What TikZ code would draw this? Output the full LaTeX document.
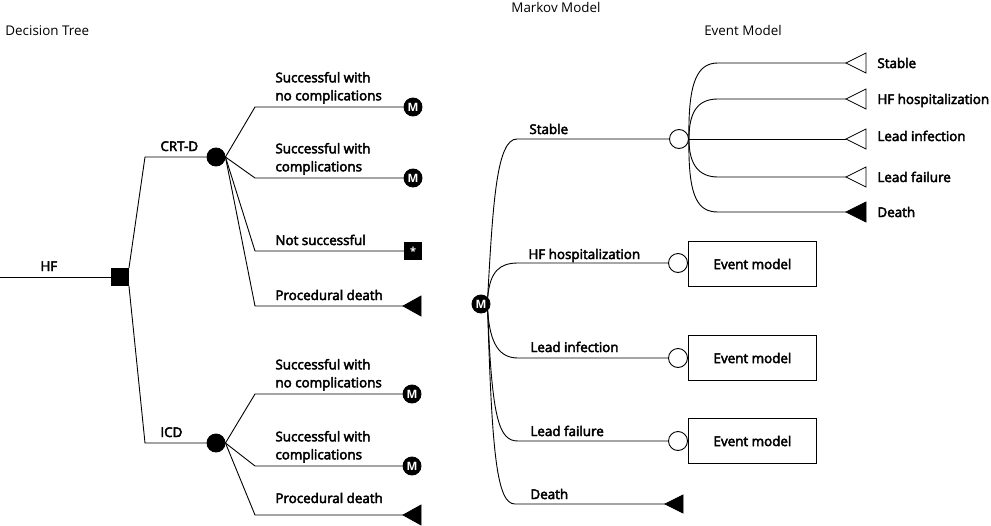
\documentclass[tikz,border=0pt]{standalone}
\usepackage{fontspec}
\setmainfont{Open Sans}
\newcommand\medfont{\fontsize{13.4}{18}\selectfont}
\newcommand\semib[1]{\special{pdf:literal 2 Tr 0.45 w 0 G}#1\special{pdf:literal 0 Tr 0.9 w}}
\begin{document}
\begin{tikzpicture}[x=1pt,y=-1pt,line width=0.9pt,
  lbl/.style={anchor=base west,inner sep=0pt,font=\medfont},
  lbltwo/.style={anchor=south west,inner sep=0pt,align=left,font=\medfont},
  ttl/.style={inner sep=0pt,font=\fontsize{13.4}{15}\selectfont},
  chancef/.style={circle,fill=black,draw=black,minimum size=18pt,inner sep=0pt},
  chanceo/.style={circle,fill=white,draw=black,minimum size=19pt,inner sep=0pt},
  mnode/.style={circle,fill=black,draw=black,minimum size=18pt,inner sep=0pt,text=white,font=\bfseries\fontsize{11.5}{11.5}\selectfont},
  decbox/.style={rectangle,fill=black,draw=black,minimum size=17pt,inner sep=0pt},
  starbox/.style={rectangle,fill=black,draw=black,minimum size=17pt,inner sep=0pt,text=white,font=\bfseries\fontsize{11}{11}\selectfont},
  evbox/.style={rectangle,draw=black,minimum width=128pt,minimum height=45pt,inner sep=0pt,font=\medfont},
  term/.style={draw=black,fill=black,line width=0.7pt},
  termo/.style={draw=black,fill=white,line width=0.7pt}]
\useasboundingbox (0,0) rectangle (991,525);

% titles
\node[ttl,anchor=base west] (t1) at (5,35) {Decision Tree};
\node[ttl,anchor=base] (t2) at (556,12) {Markov Model};
\node[ttl,anchor=base] (t3) at (743,35) {Event Model};

% ---------------- decision tree ----------------
\coordinate (hfstart) at (0,277);
\node[decbox] (sq) at (120,277) {};
\node[chancef] (crt) at (216,157) {};
\node[chancef] (icd) at (216,443) {};
\coordinate (crtk) at (145,157);
\coordinate (icdk) at (145,443);
\draw (hfstart) -- (sq.west);
\draw (sq.north east) -- (crtk) -- (crt.west);
\draw (sq.south east) -- (icdk) -- (icd.west);
\node[lbl] (lhf) at (40,271) {\semib{HF}};
\node[lbl] (lcrt) at (160,151) {\semib{CRT-D}};
\node[lbl] (licd) at (160,437) {\semib{ICD}};

% CRT-D branches
\node[mnode] (m1) at (413,107) {M};
\node[mnode] (m2) at (413,178) {M};
\node[starbox] (st) at (413,251) {*};
\coordinate (pd1) at (403,306);
\coordinate (b1) at (255,107);
\coordinate (b2) at (255,178);
\coordinate (b3) at (255,251);
\coordinate (b4) at (255,306);
\draw (crt.east) -- (b1) -- (m1.west);
\draw (crt.east) -- (b2) -- (m2.west);
\draw (crt.east) -- (b3) -- (st.west);
\draw (crt.east) -- (b4) -- (pd1);
\draw[term] (pd1) -- ++(18,-10) -- ++(0,20) -- cycle;
\node[lbltwo] (l1) at (275,104) {\semib{Successful with}\\\semib{no complications}};
\node[lbltwo] (l2) at (275,175) {\semib{Successful with}\\\semib{complications}};
\node[lbl] (l3) at (275,245) {\semib{Not successful}};
\node[lbl] (l4) at (275,300) {\semib{Procedural death}};

% ICD branches
\node[mnode] (m3) at (412,394) {M};
\node[mnode] (m4) at (412,466) {M};
\coordinate (pd2) at (403,515);
\coordinate (c1) at (255,394);
\coordinate (c2) at (255,466);
\coordinate (c3) at (255,515);
\draw (icd.east) -- (c1) -- (m3.west);
\draw (icd.east) -- (c2) -- (m4.west);
\draw (icd.east) -- (c3) -- (pd2);
\draw[term] (pd2) -- ++(18,-10) -- ++(0,20) -- cycle;
\node[lbltwo] (l5) at (275,391) {\semib{Successful with}\\\semib{no complications}};
\node[lbltwo] (l6) at (275,463) {\semib{Successful with}\\\semib{complications}};
\node[lbl] (l7) at (275,503) {\semib{Procedural death}};

% ---------------- Markov model ----------------
\node[mnode] (mk) at (481,304) {M};
\node[chanceo] (cs) at (679,139) {};
\node[chanceo] (ch) at (678,263) {};
\node[chanceo] (ci) at (678,358) {};
\node[chanceo] (cf) at (678,441) {};
\node[evbox,anchor=west] (e1) at (688,264) {\semib{Event model}};
\node[evbox,anchor=west] (e2) at (688,358) {\semib{Event model}};
\node[evbox,anchor=west] (e3) at (688,441) {\semib{Event model}};
\coordinate (md) at (665,504);

\draw (mk.north east) .. controls (493,200) and (497,139) .. (517,139) -- (cs.west);
\draw (mk.north east) .. controls (490,271) and (500,263) .. (518,263) -- (ch.west);
\draw (mk.south east) .. controls (490,345) and (500,358) .. (518,358) -- (ci.west);
\draw (mk.south east) .. controls (492,420) and (499,441) .. (518,441) -- (cf.west);
\draw (mk.south east) .. controls (492,455) and (497,504) .. (515,504) -- (md);
\draw[term] (md) -- ++(18,-9) -- ++(0,18) -- cycle;
\node[lbl] (s1) at (529,134) {\semib{Stable}};
\node[lbl] (s2) at (528,259) {\semib{HF hospitalization}};
\node[lbl] (s3) at (530,352) {\semib{Lead infection}};
\node[lbl] (s4) at (530,436) {\semib{Lead failure}};
\node[lbl] (s5) at (530,499) {\semib{Death}};

% ---------------- event model ----------------
\coordinate (ea) at (846,63);
\coordinate (eb) at (846,99);
\coordinate (ec) at (846,139);
\coordinate (ed) at (846,177);
\coordinate (ee) at (846,212);
\draw (cs.east) .. controls (688,80) and (698,63) .. (718,63) -- (ea);
\draw (cs.east) .. controls (689,110) and (699,99) .. (718,99) -- (eb);
\draw (cs.east) -- (ec);
\draw (cs.east) .. controls (689,165) and (699,177) .. (718,177) -- (ed);
\draw (cs.east) .. controls (688,198) and (698,212) .. (718,212) -- (ee);
\draw[termo] (ea) -- ++(20,-10) -- ++(0,20) -- cycle;
\draw[termo] (eb) -- ++(20,-10) -- ++(0,20) -- cycle;
\draw[termo] (ec) -- ++(20,-10) -- ++(0,20) -- cycle;
\draw[termo] (ed) -- ++(20,-10) -- ++(0,20) -- cycle;
\draw[term] (ee) -- ++(20,-10) -- ++(0,20) -- cycle;
\node[lbl] (r1) at (877,68) {\semib{Stable}};
\node[lbl] (r2) at (877,104) {\semib{HF hospitalization}};
\node[lbl] (r3) at (877,141) {\semib{Lead infection}};
\node[lbl] (r4) at (877,182) {\semib{Lead failure}};
\node[lbl] (r5) at (877,217) {\semib{Death}};
\end{tikzpicture}
\end{document}
